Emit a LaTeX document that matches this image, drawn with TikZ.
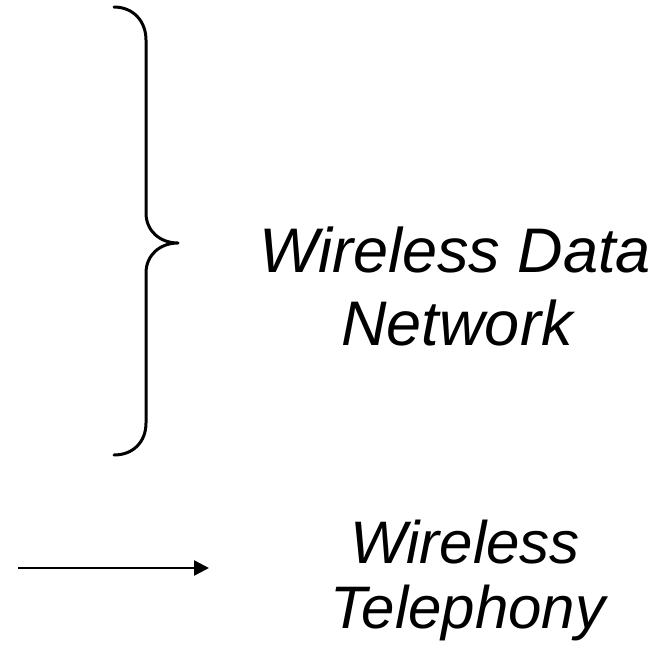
\documentclass[tikz,border=0pt]{standalone}
\usepackage{fontspec}
\setmainfont{Liberation Sans}
\usetikzlibrary{arrows.meta}
\begin{document}
\begin{tikzpicture}[x=1pt,y=-1pt,
  lbl/.style={anchor=base,inner sep=0pt,font=\fontsize{60}{72}\selectfont\itshape},
  biglbl/.style={lbl,font=\fontsize{63}{75}\selectfont\itshape},
  bracestyle/.style={line width=3pt,line cap=round,line join=round},
  arrowstyle/.style={line width=2.6pt,-{Triangle[length=15pt,width=15pt]}}]
\useasboundingbox (0,0) rectangle (658,648);
% brace
\draw[bracestyle] (114,7) .. controls (133,7) and (146,21) .. (146,40)
  -- (146,213) .. controls (146,231) and (160,243) .. (178,243)
  .. controls (160,243) and (146,255) .. (146,273)
  -- (146,423) .. controls (146,442) and (133,455) .. (114,455);
% labels
\node[biglbl] (wd1) at (455,272) {Wireless Data};
\node[biglbl] (wd2) at (457,345) {Network};
\node[lbl] (wt1) at (465,563) {Wireless};
\node[lbl] (wt2) at (468,628) {Telephony};
% arrow
\coordinate (as) at (18,568);
\coordinate (ae) at (209,568);
\draw[arrowstyle] (as) -- (ae);
\end{tikzpicture}
\end{document}
